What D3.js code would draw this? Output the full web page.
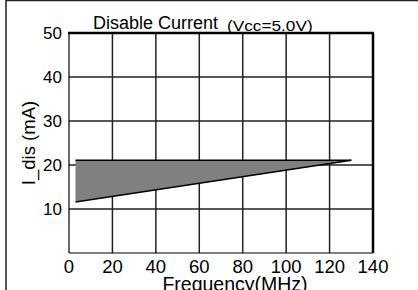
<!DOCTYPE html>
<html>
<head>
<meta charset="utf-8">
<script src="https://cdn.jsdelivr.net/npm/d3@7"></script>
<style>
  body { margin: 0; background: #fff; }
  text { font-family: "Liberation Sans", Arial, sans-serif; fill: #000; }
</style>
</head>
<body>
<div id="chart"></div>
<script>
// data
const freq = [3, 130];
const upper = [21.1, 21.1];
const lower = [11.6, 21.1];
const xTicks = [0, 20, 40, 60, 80, 100, 120, 140];
const yTicks = [10, 20, 30, 40, 50];

const W = 418, H = 290;
const margin = { top: 33, right: 45, bottom: 37, left: 69 },
  width = W - margin.left - margin.right,
  height = H - margin.top - margin.bottom;

const svg = d3.select("#chart").append("svg")
  .attr("width", W).attr("height", H);

// outer frame (left and top)
svg.append("line").attr("x1", 6).attr("x2", 6).attr("y1", 0).attr("y2", H)
  .attr("stroke", "#555").attr("stroke-width", 2);
svg.append("line").attr("x1", 6).attr("x2", W).attr("y1", 0.5).attr("y2", 0.5)
  .attr("stroke", "#222").attr("stroke-width", 1.5);

const g = svg.append("g").attr("transform", `translate(${margin.left},${margin.top})`);

const x = d3.scaleLinear().domain([0, 140]).range([0, width]);
const y = d3.scaleLinear().domain([0, 50]).range([height, 0]);

// grid
g.selectAll(".vg").data(xTicks.slice(1, -1)).join("line")
  .attr("x1", d => x(d)).attr("x2", d => x(d)).attr("y1", 0).attr("y2", height)
  .attr("stroke", "#222").attr("stroke-width", 1.5);
g.selectAll(".hg").data(yTicks.slice(0, -1)).join("line")
  .attr("x1", 0).attr("x2", width).attr("y1", d => y(d)).attr("y2", d => y(d))
  .attr("stroke", "#222").attr("stroke-width", 1.5);

// band between upper and lower
const pts = freq.map((f, i) => [f, upper[i]]).concat(freq.map((f, i) => [f, lower[i]]).reverse());
g.append("path")
  .attr("d", d3.line().x(d => x(d[0])).y(d => y(d[1]))(pts) + "Z")
  .attr("fill", "#808080");
const edge = d3.line().x(d => x(d[0])).y(d => y(d[1]));
g.append("path").attr("d", edge(freq.map((f, i) => [f, upper[i]])))
  .attr("fill", "none").attr("stroke", "#000").attr("stroke-width", 1.5);
g.append("path").attr("d", edge(freq.map((f, i) => [f, lower[i]])))
  .attr("fill", "none").attr("stroke", "#000").attr("stroke-width", 1.5);

// plot border: thin left/bottom, thick top/right
g.append("line").attr("x1", 0).attr("x2", 0).attr("y1", 0).attr("y2", height)
  .attr("stroke", "#000").attr("stroke-width", 1.2);
g.append("line").attr("x1", 0).attr("x2", width).attr("y1", height).attr("y2", height)
  .attr("stroke", "#000").attr("stroke-width", 1.2);
g.append("line").attr("x1", -1).attr("x2", width + 1).attr("y1", 0).attr("y2", 0)
  .attr("stroke", "#000").attr("stroke-width", 2.5);
g.append("line").attr("x1", width).attr("x2", width).attr("y1", 0).attr("y2", height)
  .attr("stroke", "#000").attr("stroke-width", 2.5);

// tick labels
g.selectAll(".xl").data(xTicks).join("text")
  .attr("x", d => x(d)).attr("y", height + 20)
  .attr("text-anchor", "middle").style("font-size", "18.5px").text(d => d);
g.selectAll(".yl").data(yTicks).join("text")
  .attr("x", -7).attr("y", d => y(d) + 6)
  .attr("text-anchor", "end").style("font-size", "17px").text(d => d);

// axis titles
svg.append("text").attr("x", 235).attr("y", 291)
  .attr("text-anchor", "middle").style("font-size", "19.5px").text("Frequency(MHz)");
svg.append("text")
  .attr("transform", "translate(35,143) rotate(-90)")
  .attr("text-anchor", "middle").style("font-size", "18.5px")
  .text("I_dis (mA)");

// title
svg.append("text").attr("x", 93).attr("y", 29).style("font-size", "18px").text("Disable Current");
svg.append("text").attr("transform", "translate(227,31) scale(1.23,1)")
  .style("font-size", "14px").text("(Vcc=5.0V)");
</script>
</body>
</html>
